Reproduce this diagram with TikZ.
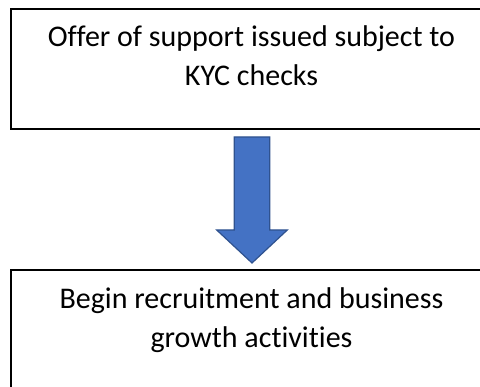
\documentclass[tikz,border=0pt]{standalone}
\usepackage{fontspec}
\setmainfont[Ligatures=NoCommon]{Carlito}
\usetikzlibrary{positioning,calc}
\definecolor{arrowblue}{HTML}{4472C4}
\definecolor{arrowedge}{HTML}{2F528F}
\begin{document}
\begin{tikzpicture}[x=1pt,y=1pt,
  stepbox/.style={draw=black, line width=2pt, minimum width=481pt, inner sep=0pt},
  boxtext/.style={align=center, inner sep=0pt, font=\fontsize{30}{39}\selectfont},
  blockarrow/.style={fill=arrowblue, draw=arrowedge, line width=1.2pt, line join=miter}]
\useasboundingbox (0,0) rectangle (480,-387);

% boxes
\node[stepbox, minimum height=120pt] (offer) at (251.5,-69) {};
\node[stepbox, minimum height=130pt] (growth) at (251.5,-335) {};

% texts
\node[boxtext, below=17pt of offer.north] (offertxt) {Offer of support issued subject to\\KYC checks};
\node[boxtext, below=18pt of growth.north] (growthtxt) {Begin recruitment and business\\growth activities};

% block arrow
\path (offer.south) ++(0.5,-7) coordinate (atop);
\path (growth.north) ++(0.5,6) coordinate (atip);
\filldraw[blockarrow] ($(atop)+(-17.8,0)$) -- ($(atop)+(17.8,0)$)
  -- ($(atip)+(17.8,33)$) -- ($(atip)+(35.3,33)$) -- (atip)
  -- ($(atip)+(-35.3,33)$) -- ($(atip)+(-17.8,33)$) -- cycle;

\end{tikzpicture}
\end{document}
